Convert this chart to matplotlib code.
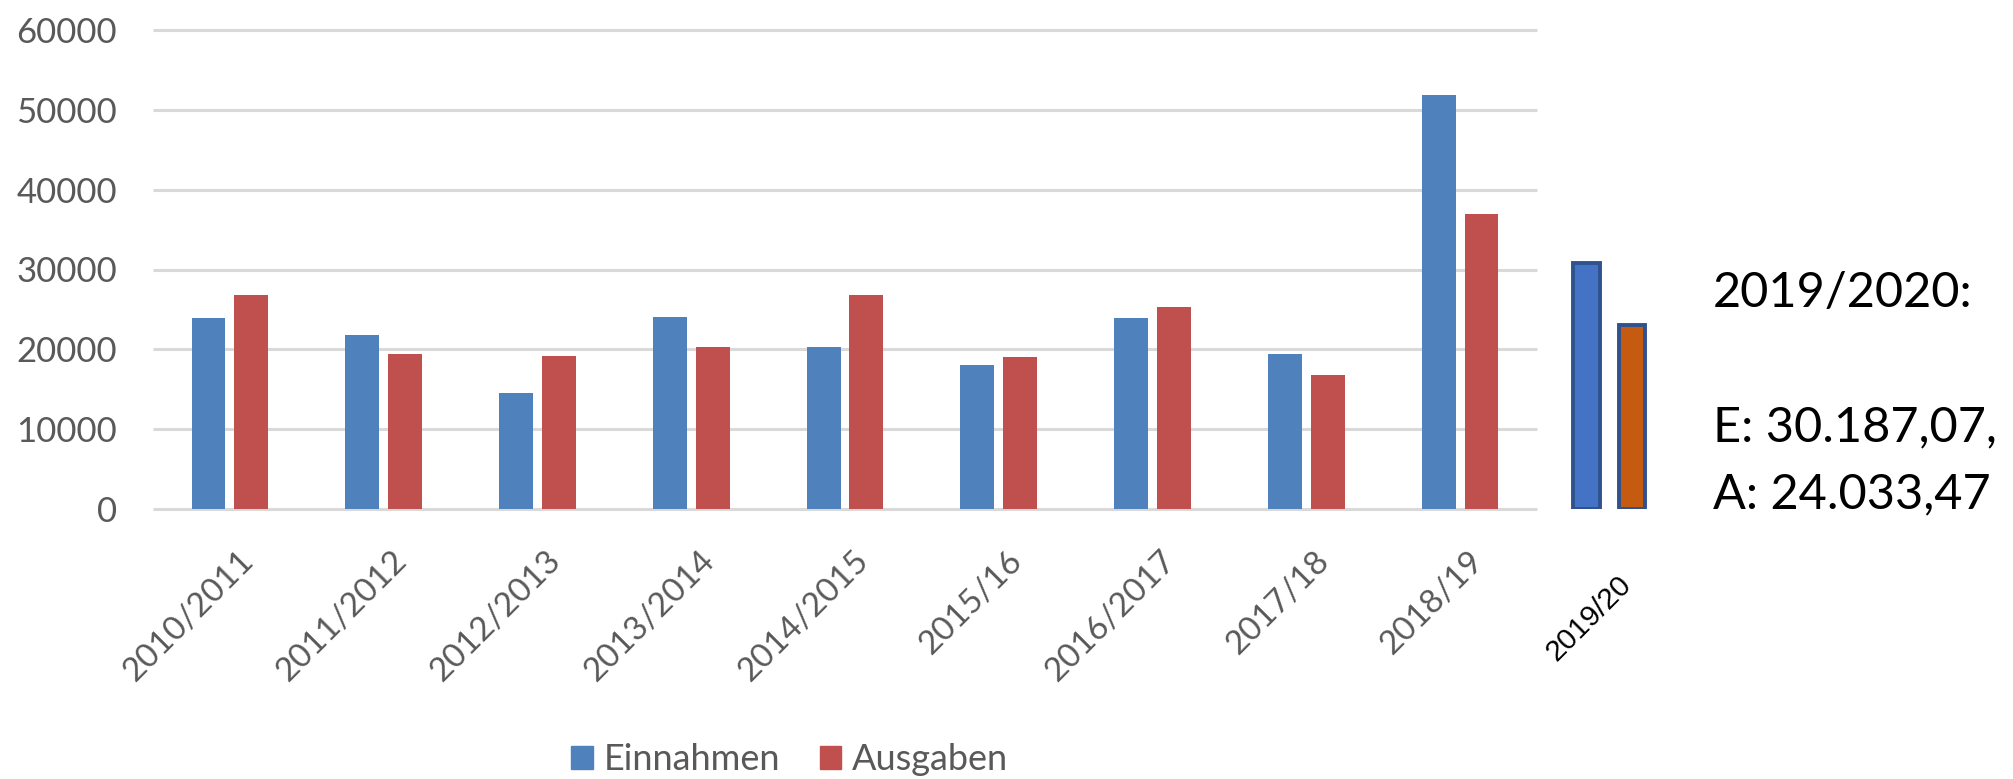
import matplotlib
matplotlib.use("Agg")
import matplotlib.pyplot as plt
from matplotlib.patches import Patch
from matplotlib.transforms import ScaledTranslation

plt.rcParams['font.family'] = ['Lato', 'DejaVu Sans']

# data
years = ['2010/2011', '2011/2012', '2012/2013', '2013/2014', '2014/2015',
         '2015/16', '2016/2017', '2017/18', '2018/19']
einnahmen = [23900, 21800, 14500, 24100, 20300, 18000, 23900, 19400, 51800]
ausgaben = [26800, 19400, 19200, 20300, 26800, 19100, 25300, 16800, 37000]

# the hand drawn 2019/20 pair (as drawn, not as stated in the text)
extra_label = '2019/20'
extra_values = [30800, 23100]
extra_text = ['2019/2020:', 'E: 30.187,07,', 'A: 24.033,47']

yticks = [0, 10000, 20000, 30000, 40000, 50000, 60000]

BLUE = '#4F81BD'
RED = '#C0504D'
GREY = '#595959'

W, H = 2013, 779
fig = plt.figure(figsize=(W / 100, H / 100), dpi=100)

# axes in pixels: left 153, bottom 509, top 30; one category = 153.8 px
left, right, bottom, top = 153, 1690, 509.3, 29.7
ax = fig.add_axes([left / W, 1 - bottom / H, (right - left) / W, (bottom - top) / H])
cat = (1537 - 153) / 9.0
ax.set_xlim(-0.5, -0.5 + (right - left) / cat)
ax.set_ylim(0, 60000)

for s in ax.spines.values():
    s.set_visible(False)

# gridlines only under the 9 Excel categories
ax.hlines(yticks, -0.5, len(years) - 0.5, color='#D9D9D9', lw=2.2, zorder=0, clip_on=False)

x = list(range(len(years)))
bw = 0.22
ax.bar([i - 0.139 for i in x], einnahmen, bw, color=BLUE, zorder=2)
ax.bar([i + 0.139 for i in x], ausgaben, bw, color=RED, zorder=2)

# extra pair, with dark blue outline
xe = len(years) - 0.03
ax.bar([xe - 0.148, xe + 0.148], extra_values, 0.175,
       color=['#4472C4', '#C55A11'], edgecolor='#2F528F', linewidth=2.8, zorder=2)

ax.set_yticks(yticks)
ax.set_yticklabels([str(v) for v in yticks], fontsize=25, color=GREY)
ax.tick_params(axis='y', length=0, pad=25.9)

ax.set_xticks(x)
ax.set_xticklabels(years, fontsize=24, color=GREY, rotation=45, ha='right',
                   va='top', rotation_mode='anchor')
ax.tick_params(axis='x', length=0, pad=26)
off = ScaledTranslation(8 / 100, 0, fig.dpi_scale_trans)
for lab in ax.get_xticklabels():
    lab.set_transform(lab.get_transform() + off)

ax.annotate(extra_label, xy=(xe, 0), xytext=(8 * 0.72, -61 * 0.72),
            textcoords='offset points', rotation=45, ha='right', va='top',
            rotation_mode='anchor', fontsize=21.5, color='black',
            family=['Liberation Sans', 'DejaVu Sans'], annotation_clip=False)

# text on the right
fig.text(1713 / W, 1 - 307.3 / H, extra_text[0], fontsize=35, va='baseline', ha='left')
fig.text(1713 / W, 1 - 441.7 / H, extra_text[1], fontsize=35, va='baseline', ha='left')
fig.text(1713 / W, 1 - 508.3 / H, extra_text[2], fontsize=35, va='baseline', ha='left')

handles = [Patch(color=BLUE, label='Einnahmen'), Patch(color=RED, label='Ausgaben')]
leg = fig.legend(handles=handles, loc='center left', bbox_to_anchor=(571 / W, 1 - 760 / H),
                 ncol=2, frameon=False, fontsize=26, borderpad=0, borderaxespad=0,
                 handlelength=0.6, handleheight=0.6, handletextpad=0.3, columnspacing=1.1)
for t in leg.get_texts():
    t.set_color(GREY)

fig.savefig('out.png', dpi=100, facecolor='white')
